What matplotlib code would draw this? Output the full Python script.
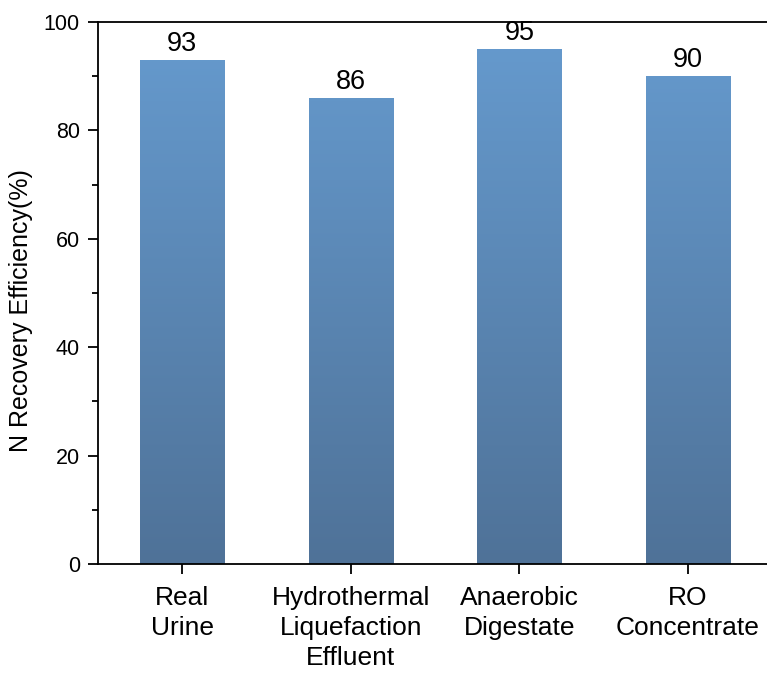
import matplotlib
matplotlib.use("Agg")
import matplotlib.pyplot as plt
import numpy as np
from matplotlib.ticker import MultipleLocator
from matplotlib.colors import LinearSegmentedColormap

categories = ["Real\nUrine", "Hydrothermal\nLiquefaction\nEffluent", "Anaerobic\nDigestate", "RO\nConcentrate"]
values = [93, 86, 95, 90]
yticks = [0, 20, 40, 60, 80, 100]

plt.rcParams['font.family'] = ['Liberation Sans', 'DejaVu Sans']

fig = plt.figure(figsize=(7.67, 6.73), dpi=100)
ax = fig.add_axes([98/767, 109/673, 669/767, 542/673])

x = np.arange(len(values))
bars = ax.bar(x, values, width=0.5, color='none', edgecolor='none', zorder=2)

cmap = LinearSegmentedColormap.from_list('g', ['#4f7298', '#669bcf'])
grad = np.linspace(0, 1, 256).reshape(-1, 1)
for b in bars:
    x0 = b.get_x()
    w = b.get_width()
    im = ax.imshow(grad, extent=[x0, x0 + w, 0, 100], origin='lower', aspect='auto',
                   cmap=cmap, zorder=2)
    im.set_clip_path(b)

for xi, v in zip(x, values):
    ax.text(xi, v + 0.5, f"{v}", ha='center', va='bottom', fontsize=19.5)

ax.set_xlim(-0.5, 3.47)
ax.set_ylim(0, 100)
ax.set_yticks(yticks)
ax.yaxis.set_minor_locator(MultipleLocator(10))
ax.set_xticks(x)
ax.set_xticklabels(categories, fontsize=19, linespacing=1.3)
ax.tick_params(axis='y', labelsize=15.5, direction='out', length=7, width=1.3, pad=6)
ax.tick_params(axis='y', which='minor', direction='out', length=4, width=1.3)
ax.tick_params(axis='x', direction='out', length=7, width=1.3, pad=9)
ax.set_ylabel("N Recovery Efficiency(%)", fontsize=18)
ax.yaxis.set_label_coords(-0.097, 0.467)

for s in ['left', 'top', 'bottom']:
    ax.spines[s].set_linewidth(1.3)
ax.spines['right'].set_visible(False)

fig.savefig("out.png", dpi=100)
